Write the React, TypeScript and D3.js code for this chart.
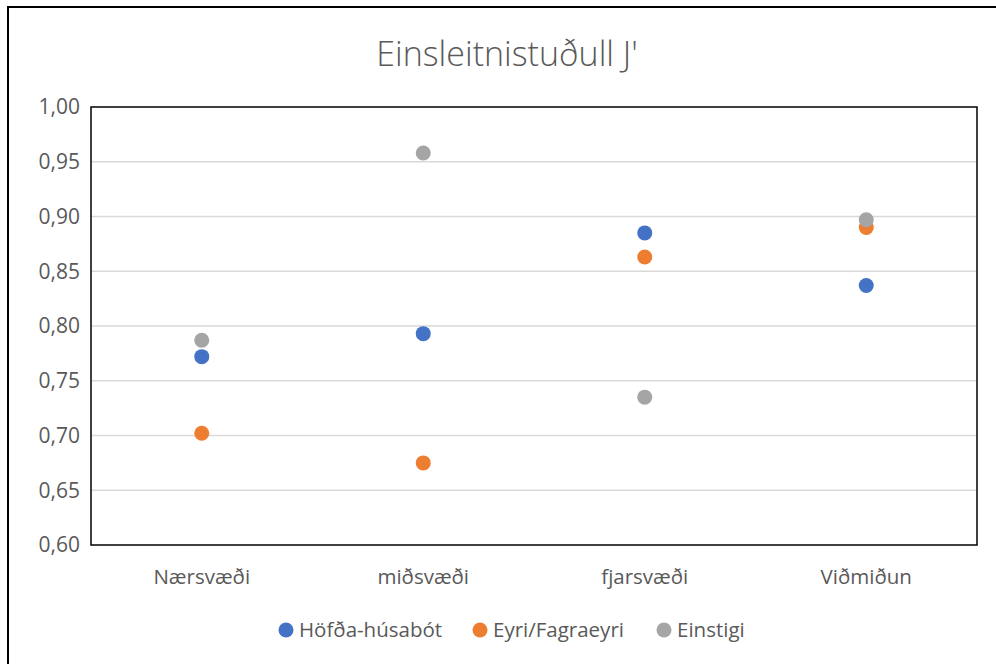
import React from "react";
import * as d3 from "d3";

const title = "Einsleitnistuðull J'";
const categories = ["Nærsvæði", "miðsvæði", "fjarsvæði", "Viðmiðun"];
const seriesNames = ["Höfða-húsabót", "Eyri/Fagraeyri", "Einstigi"];
const seriesColors = ["#4472C4", "#ED7D31", "#A5A5A5"];
const hofdaValues = [0.772, 0.793, 0.885, 0.837];
const eyriValues = [0.702, 0.675, 0.863, 0.89];
const einstigiValues = [0.787, 0.958, 0.735, 0.897];
const yTicks = [0.6, 0.65, 0.7, 0.75, 0.8, 0.85, 0.9, 0.95, 1.0];

const width = 996;
const height = 664;
const plot = { left: 91, right: 977, top: 107, bottom: 545 };
const font = "'Open Sans', 'Noto Sans', sans-serif";
const textColor = "#595959";

export default function App() {
  const series = [hofdaValues, eyriValues, einstigiValues];

  const x = d3
    .scaleBand()
    .domain(categories)
    .range([plot.left, plot.right]);

  const y = d3
    .scaleLinear()
    .domain([0.6, 1.0])
    .range([plot.bottom, plot.top]);

  const fmt = (v: number) => d3.format(".2f")(v).replace(".", ",");

  // legend dot positions
  const legendX = [286, 480, 664];

  return (
    <svg
      width={width}
      height={height}
      style={{ position: "absolute", left: 0, top: 0, background: "#fff" }}
      fontFamily={font}
    >
      <rect x={0} y={0} width={width} height={height} fill="#fff" />
      <rect
        x={8}
        y={7}
        width={width + 10}
        height={height + 10}
        fill="none"
        stroke="#000"
        strokeWidth={2}
      />
      <text
        x={507}
        y={66}
        textAnchor="middle"
        fontSize={34}
        fontWeight={300}
        fill={textColor}
      >
        {title}
      </text>

      {yTicks.map((t) => (
        <g key={t}>
          {t > 0.6 && t < 1.0 && (
            <line
              x1={plot.left}
              x2={plot.right}
              y1={y(t)}
              y2={y(t)}
              stroke="#d9d9d9"
              strokeWidth={1.5}
            />
          )}
          <text
            x={80}
            y={y(t)}
            dy="0.35em"
            textAnchor="end"
            fontSize={21}
            fill={textColor}
          >
            {fmt(t)}
          </text>
        </g>
      ))}

      <rect
        x={plot.left}
        y={plot.top}
        width={plot.right - plot.left}
        height={plot.bottom - plot.top}
        fill="none"
        stroke="#000"
        strokeWidth={1.5}
      />

      {categories.map((c) => (
        <text
          key={c}
          x={x(c)! + x.bandwidth() / 2}
          y={577}
          dy="0.35em"
          textAnchor="middle"
          fontSize={20.5}
          fill={textColor}
        >
          {c}
        </text>
      ))}

      {series.map((vals, si) =>
        vals.map((v, i) => (
          <circle
            key={`${si}-${i}`}
            cx={x(categories[i])! + x.bandwidth() / 2}
            cy={y(v)}
            r={7.5}
            fill={seriesColors[si]}
          />
        ))
      )}

      {seriesNames.map((n, i) => (
        <g key={n}>
          <circle cx={legendX[i]} cy={630} r={7.5} fill={seriesColors[i]} />
          <text
            x={legendX[i] + 13}
            y={630}
            dy="0.35em"
            fontSize={20.5}
            fill={textColor}
          >
            {n}
          </text>
        </g>
      ))}
    </svg>
  );
}
